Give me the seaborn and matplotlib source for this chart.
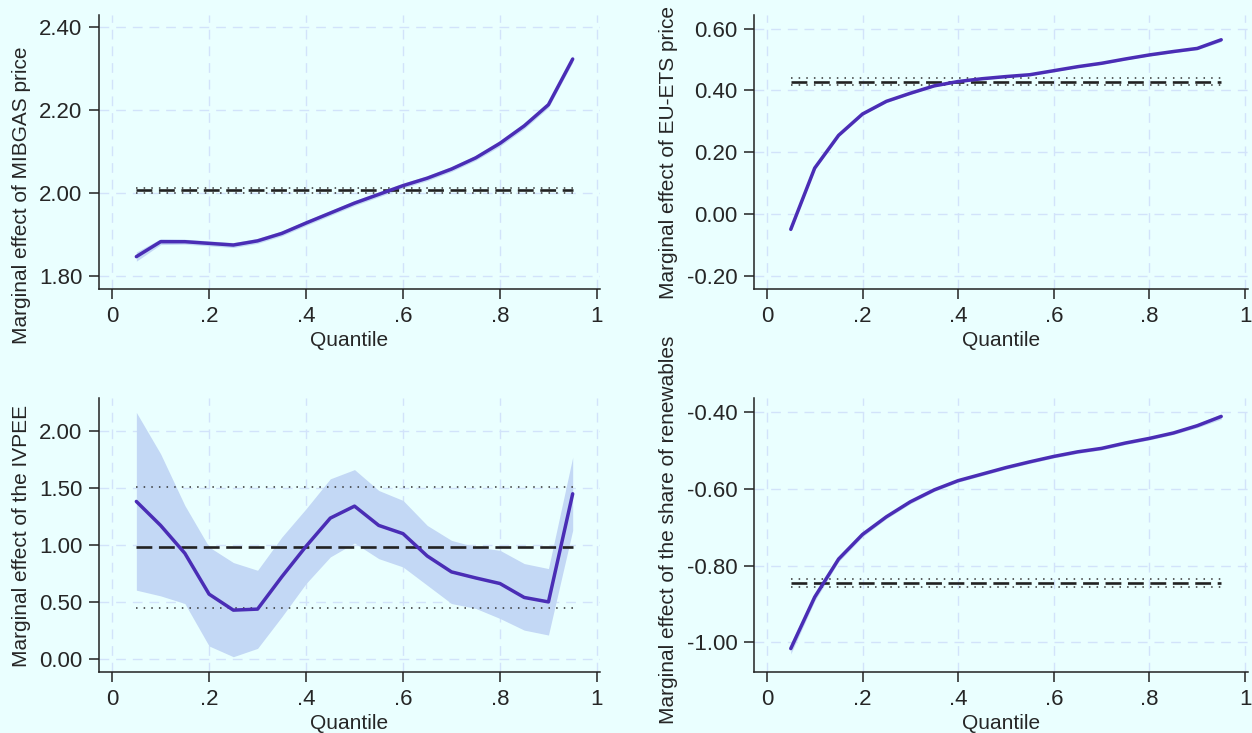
import numpy as np
import pandas as pd
import matplotlib
matplotlib.use("Agg")
import matplotlib.pyplot as plt
import seaborn as sns

# quantiles used in the quantile regressions
quantiles = [0.05, 0.10, 0.15, 0.20, 0.25, 0.30, 0.35, 0.40, 0.45, 0.50,
             0.55, 0.60, 0.65, 0.70, 0.75, 0.80, 0.85, 0.90, 0.95]

# MIBGAS price
gas_coef = [1.847, 1.883, 1.883, 1.879, 1.875, 1.885, 1.903, 1.928, 1.952, 1.976,
            1.997, 2.018, 2.036, 2.058, 2.085, 2.120, 2.162, 2.213, 2.323]
gas_lo = [1.836, 1.876, 1.877, 1.873, 1.869, 1.879, 1.897, 1.922, 1.946, 1.970,
          1.991, 2.012, 2.030, 2.052, 2.079, 2.113, 2.155, 2.206, 2.315]
gas_hi = [1.858, 1.890, 1.889, 1.885, 1.881, 1.891, 1.909, 1.934, 1.958, 1.982,
          2.003, 2.024, 2.042, 2.064, 2.091, 2.127, 2.169, 2.220, 2.331]
gas_ols = [2.001, 2.007, 2.013]

# EU-ETS price
ets_coef = [-0.049, 0.149, 0.255, 0.324, 0.365, 0.391, 0.415, 0.429, 0.438, 0.445,
            0.451, 0.464, 0.477, 0.488, 0.502, 0.515, 0.526, 0.536, 0.564]
ets_lo = [-0.055, 0.144, 0.251, 0.320, 0.361, 0.388, 0.412, 0.426, 0.435, 0.442,
          0.448, 0.461, 0.474, 0.485, 0.499, 0.512, 0.522, 0.532, 0.558]
ets_hi = [-0.043, 0.154, 0.259, 0.328, 0.369, 0.394, 0.418, 0.432, 0.441, 0.448,
          0.454, 0.467, 0.480, 0.491, 0.505, 0.518, 0.530, 0.540, 0.570]
ets_ols = [0.418, 0.428, 0.439]

# IVPEE
ivpee_coef = [1.38, 1.17, 0.926, 0.568, 0.428, 0.437, 0.72, 0.987, 1.234, 1.339,
              1.17, 1.098, 0.902, 0.763, 0.71, 0.661, 0.539, 0.50, 1.447]
ivpee_lo = [0.603, 0.553, 0.486, 0.114, 0.02, 0.093, 0.37, 0.661, 0.894, 1.016,
            0.879, 0.806, 0.646, 0.486, 0.443, 0.355, 0.253, 0.21, 1.127]
ivpee_hi = [2.16, 1.797, 1.345, 0.981, 0.845, 0.777, 1.068, 1.316, 1.578, 1.659,
            1.476, 1.389, 1.17, 1.039, 0.981, 0.952, 0.836, 0.792, 1.767]
ivpee_ols = [0.451, 0.981, 1.505]

# share of renewables
ren_coef = [-1.016, -0.882, -0.783, -0.719, -0.673, -0.634, -0.603, -0.579, -0.562, -0.545,
            -0.530, -0.516, -0.504, -0.495, -0.481, -0.469, -0.455, -0.436, -0.412]
ren_lo = [-1.030, -0.892, -0.790, -0.725, -0.678, -0.639, -0.607, -0.583, -0.566, -0.549,
          -0.534, -0.520, -0.508, -0.499, -0.485, -0.473, -0.459, -0.441, -0.419]
ren_hi = [-1.002, -0.872, -0.776, -0.713, -0.668, -0.629, -0.599, -0.575, -0.558, -0.541,
          -0.526, -0.512, -0.500, -0.491, -0.477, -0.465, -0.451, -0.431, -0.405]
ren_ols = [-0.856, -0.846, -0.835]

panels = [
    ("Marginal effect of MIBGAS price", gas_coef, gas_lo, gas_hi, gas_ols,
     [1.80, 2.00, 2.20, 2.40], (1.769, 2.429)),
    ("Marginal effect of EU-ETS price", ets_coef, ets_lo, ets_hi, ets_ols,
     [-0.20, 0.00, 0.20, 0.40, 0.60], (-0.242, 0.644)),
    ("Marginal effect of the IVPEE", ivpee_coef, ivpee_lo, ivpee_hi, ivpee_ols,
     [0.00, 0.50, 1.00, 1.50, 2.00], (-0.114, 2.286)),
    ("Marginal effect of the share of renewables", ren_coef, ren_lo, ren_hi, ren_ols,
     [-1.00, -0.80, -0.60, -0.40], (-1.077, -0.364)),
]

bg = "#EAFFFF"
line_c = "#4A2DB5"
band_c = "#C3D8F5"
grid_c = "#D2E3FA"

sns.set_theme(style="ticks")
plt.rcParams['font.family'] = ['Liberation Sans', 'DejaVu Sans']

fig = plt.figure(figsize=(12.52, 7.33), dpi=100, facecolor=bg)
boxes = [(0.0791, 0.6057, 0.4000, 0.3738), (0.6022, 0.6057, 0.3946, 0.3738),
         (0.0791, 0.0832, 0.4000, 0.3738), (0.6022, 0.0832, 0.3946, 0.3738)]
label_y = [0.343, 0.5, 0.496, 0.518]

for box, ly, (ylab, coef, lo, hi, ols, yticks, ylim) in zip(boxes, label_y, panels):
    ax = fig.add_axes(box)
    ax.set_facecolor(bg)
    df = pd.DataFrame({"Quantile": quantiles, "coef": coef, "lo": lo, "hi": hi})
    ax.fill_between(df["Quantile"], df["lo"], df["hi"], color=band_c, lw=0, zorder=2)
    sns.lineplot(data=df, x="Quantile", y="coef", ax=ax, color=line_c, lw=2.5, zorder=4)
    # OLS estimate and confidence interval
    ax.hlines(ols[1], quantiles[0], quantiles[-1], colors="#222222", linestyles=(0, (6, 2.5)), lw=1.9, zorder=3)
    ax.hlines([ols[0], ols[2]], quantiles[0], quantiles[-1], colors="#333333",
              linestyles=(0, (1, 4)), lw=1.1, zorder=3)
    ax.set_xlim(-0.027, 1.006)
    ax.set_ylim(*ylim)
    ax.set_xticks([0, 0.2, 0.4, 0.6, 0.8, 1])
    ax.set_xticklabels(["0", ".2", ".4", ".6", ".8", "1"])
    ax.set_yticks(yticks)
    ax.set_yticklabels([f"{v:.2f}" for v in yticks])
    ax.grid(True, color=grid_c, ls=(0, (7, 5)), lw=1.0, zorder=0)
    ax.set_axisbelow(True)
    ax.tick_params(axis="both", labelsize=16, length=7, width=1.1, color="#222222", pad=5)
    ax.set_xlabel("Quantile", fontsize=15, labelpad=3)
    ax.set_ylabel(ylab, fontsize=15, labelpad=6)
    ax.yaxis.label.set_y(ly)
    sns.despine(ax=ax)
    for s in ["left", "bottom"]:
        ax.spines[s].set_color("#222222")
        ax.spines[s].set_linewidth(1.1)

fig.savefig("out.png", dpi=100, facecolor=bg)
